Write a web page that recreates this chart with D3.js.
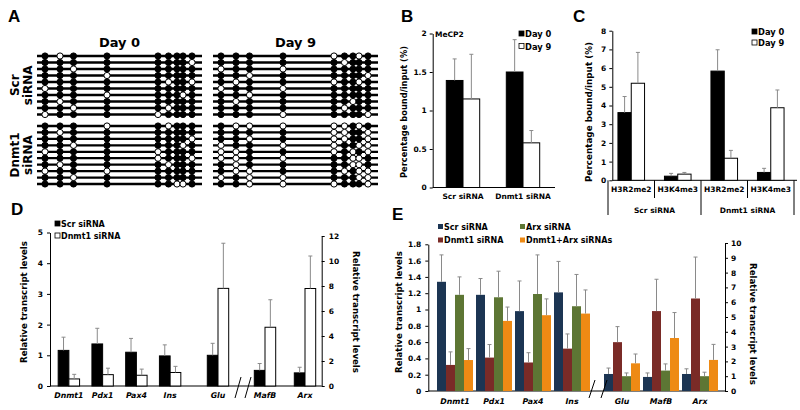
<!DOCTYPE html>
<html><head><meta charset="utf-8">
<script src="https://cdn.jsdelivr.net/npm/d3@7"></script>
<style>body{margin:0;background:#fff}svg{display:block}</style>
</head><body><div id="chart"></div>
<script>
// ---------- DATA ----------
// Panel A: CpG site positions (relative, bp scale) and methylation patterns (1 = methylated, 0 = unmethylated)
const cpgPositions = [8, 23, 36.5, 70, 121, 131.5, 140, 146, 155];
const methScrDay0 = ["101111111","111111110","110111111","111011111","111110110","011111111","111011101","101111111","110110111","011101111"];
const methScrDay9 = ["111101101","111110111","011011111","110111110","101101101","011011111","110111111","101111011","111110111","111011110"];
const methDnDay0  = ["111010111","101111111","111111110","110111101","011101111","111101110","101110111","011011111","110111111","111111001"];
const methDnDay9  = ["100000101","111100110","110100110","011001100","001101010","001011001","101111001","100110100","010011100","110001110"];
const aColumns = ["Day 0","Day 9"];
const aRows = ["Scr siRNA","Dnmt1 siRNA"];

// Panel B
const bCategories = ["Scr siRNA","Dnmt1 siRNA"];
const bSeries = ["Day 0","Day 9"];
const bDay0 = [1.39, 1.50];
const bDay0Err = [0.28, 0.42];
const bDay9 = [1.15, 0.58];
const bDay9Err = [0.58, 0.16];
const bTicks = [0, 0.5, 1, 1.5, 2];

// Panel C
const cCategories = ["H3R2me2","H3K4me3","H3R2me2","H3K4me3"];
const cGroups = ["Scr siRNA","Dnmt1 siRNA"];
const cDay0 = [3.62, 0.22, 5.84, 0.42];
const cDay0Err = [0.86, 0.15, 1.14, 0.22];
const cDay9 = [5.19, 0.33, 1.18, 3.88];
const cDay9Err = [1.65, 0.09, 0.42, 0.95];
const cTicks = [0,1,2,3,4,5,6,7,8];

// Panel D (first five on left axis, MafB & Arx on right axis)
const dCategories = ["Dnmt1","Pdx1","Pax4","Ins","Glu","MafB","Arx"];
const dSeries = ["Scr siRNA","Dnmt1 siRNA"];
const dScr = [1.16, 1.37, 1.10, 0.98, 1.00, 1.25, 1.05];
const dScrErr = [0.43, 0.51, 0.45, 0.36, 0.39, 0.55, 0.45];
const dDnmt1 = [0.23, 0.37, 0.35, 0.44, 3.18, 4.7, 7.8];
const dDnmt1Err = [0.15, 0.21, 0.20, 0.20, 1.47, 2.2, 2.6];
const dLeftTicks = [0,1,2,3,4,5];
const dRightTicks = [0,2,4,6,8,10,12];

// Panel E (first four on left axis, Glu/MafB/Arx on right axis)
const eCategories = ["Dnmt1","Pdx1","Pax4","Ins","Glu","MafB","Arx"];
const eSeries = ["Scr siRNA","Dnmt1 siRNA","Arx siRNA","Dnmt1+Arx siRNAs"];
const eScr    = [1.34, 1.18, 0.98, 1.21, 1.15, 0.95, 1.15];
const eScrErr = [0.33, 0.20, 0.37, 0.38, 0.40, 0.27, 0.35];
const eDnmt1    = [0.32, 0.41, 0.35, 0.52, 3.30, 5.40, 6.25];
const eDnmt1Err = [0.16, 0.16, 0.12, 0.18, 1.05, 2.15, 2.80];
const eArx    = [1.18, 1.15, 1.19, 1.04, 1.00, 1.38, 1.00];
const eArxErr = [0.22, 0.32, 0.48, 0.39, 0.22, 0.45, 0.27];
const eCombo    = [0.38, 0.86, 0.93, 0.95, 1.87, 3.58, 2.10];
const eComboErr = [0.14, 0.17, 0.20, 0.29, 0.63, 1.72, 1.05];
const eLeftTicks = [0,0.2,0.4,0.6,0.8,1,1.2,1.4,1.6,1.8];
const eRightTicks = [0,1,2,3,4,5,6,7,8,9,10];
const eColors = ["#1c3553","#7a2b27","#5d7634","#ee8a14"];

// ---------- DRAWING ----------
const FONT = '"DejaVu Sans", Verdana, sans-serif';
const svg = d3.select("#chart").append("svg").attr("width",800).attr("height",410);
svg.append("rect").attr("width",800).attr("height",410).attr("fill","#fff");

function txt(t,x,y,size,opt={}){
  const e = svg.append("text").attr("x",x).attr("y",y).text(t)
    .attr("font-family",opt.family||FONT).attr("font-weight","bold").attr("font-size",size)
    .attr("text-anchor",opt.anchor||"start").attr("fill","#000");
  if(opt.italic) e.attr("font-style","italic");
  if(opt.rot) e.attr("transform",`rotate(${opt.rot},${x},${y})`);
  return e;
}
function letter(t,x,y){ txt(t,x,y,17,{family:'"Liberation Sans", Arial, sans-serif'}); }
function line(x1,y1,x2,y2,c="#000",w=1){
  svg.append("line").attr("x1",x1).attr("y1",y1).attr("x2",x2).attr("y2",y2).attr("stroke",c).attr("stroke-width",w);
}
function styleAxis(g,size){
  g.selectAll("text").attr("font-family",FONT).attr("font-weight","bold").attr("font-size",size).attr("fill","#000");
  g.selectAll("line,path").attr("stroke","#000");
}
function errBar(x,y0,y1){
  line(x,y0,x,y1,"#8a8a8a",1);
  line(x-2,y1,x+2,y1,"#8a8a8a",1);
}
const plain = d => +d.toFixed(1);

// ----- Panel A -----
letter("A",8,22);
const aX = [d3.scaleLinear().domain([0,165]).range([37,202]), d3.scaleLinear().domain([0,165]).range([213,378])];
const aY = [d3.scalePoint().domain(d3.range(10)).range([56,114.5]), d3.scalePoint().domain(d3.range(10)).range([126,184])];
function drawMeth(rows,xs,ys){
  const g = svg.append("g");
  rows.forEach((r,i)=>{
    g.append("line").attr("x1",xs.range()[0]).attr("x2",xs.range()[1]).attr("y1",ys(i)).attr("y2",ys(i))
      .attr("stroke","#000").attr("stroke-width",2.3);
    g.selectAll(null).data(r.split("")).enter().append("circle")
      .attr("cx",(d,j)=>xs(cpgPositions[j])).attr("cy",ys(i)).attr("r",3.1)
      .attr("fill",d=>d==="1"?"#000":"#fff").attr("stroke","#000").attr("stroke-width",1);
  });
}
drawMeth(methScrDay0,aX[0],aY[0]);
drawMeth(methScrDay9,aX[1],aY[0]);
drawMeth(methDnDay0,aX[0],aY[1]);
drawMeth(methDnDay9,aX[1],aY[1]);
aColumns.forEach((c,i)=>txt(c,(aX[i].range()[0]+aX[i].range()[1])/2,47,13,{anchor:"middle"}));
aRows.forEach((r,i)=>{
  const [w1,w2] = r.split(" ");
  const cy = (aY[i].range()[0]+aY[i].range()[1])/2;
  txt(w1,18.5,cy,12,{anchor:"middle",rot:-90});
  txt(w2,32,cy,12,{anchor:"middle",rot:-90});
});

// ----- Panel B -----
letter("B",401,22);
const bY = d3.scaleLinear().domain([0,2]).range([187.5,33.5]);
const bX = d3.scaleBand().domain(bCategories).range([433,553]);
const bAxisX = 432.7;
const gbY = svg.append("g").attr("transform",`translate(${bAxisX},0)`)
  .call(d3.axisLeft(bY).tickValues(bTicks).tickSize(3).tickSizeOuter(0).tickPadding(3).tickFormat(plain));
styleAxis(gbY,7.5);
line(bAxisX,187.5,555,187.5);
const bBarW = 16.7;
[[bDay0,bDay0Err,"#000"],[bDay9,bDay9Err,"#fff"]].forEach(([vals,errs,fill],s)=>{
  bCategories.forEach((c,i)=>{
    const x = bX(c)+bX.bandwidth()/2 - bBarW + s*bBarW;
    svg.append("rect").attr("x",x).attr("y",bY(vals[i])).attr("width",bBarW).attr("height",bY(0)-bY(vals[i]))
      .attr("fill",fill).attr("stroke","#000").attr("stroke-width",1);
    errBar(x+bBarW/2,bY(vals[i]),bY(vals[i]+errs[i]));
  });
});
bCategories.forEach(c=>txt(c,bX(c)+bX.bandwidth()/2,199,7.5,{anchor:"middle"}));
txt("MeCP2",435,37,7.5);
txt("Percentage bound/input (%)",407,112,8.3,{anchor:"middle",rot:-90});
bSeries.forEach((s,i)=>{
  svg.append("rect").attr("x",519).attr("y",31+i*12.5).attr("width",5).attr("height",5)
    .attr("fill",i?"#fff":"#000").attr("stroke","#000").attr("stroke-width",0.8);
  txt(s,525,37+i*12.5,8.3);
});

// ----- Panel C -----
letter("C",573,22);
const cY = d3.scaleLinear().domain([0,8]).range([180.3,30.7]);
const cX = d3.scaleBand().domain(d3.range(cCategories.length)).range([608,794]);
const cAxisX = 612.3;
const gcY = svg.append("g").attr("transform",`translate(${cAxisX},0)`)
  .call(d3.axisLeft(cY).tickValues(cTicks).tickSize(3).tickSizeOuter(0).tickPadding(3).tickFormat(plain));
styleAxis(gcY,7.5);
line(cAxisX,180.3,797,180.3);
const cBarW = 13.3;
[[cDay0,cDay0Err,"#000"],[cDay9,cDay9Err,"#fff"]].forEach(([vals,errs,fill],s)=>{
  cCategories.forEach((c,i)=>{
    const x = cX(i)+cX.bandwidth()/2 - cBarW + s*cBarW;
    svg.append("rect").attr("x",x).attr("y",cY(vals[i])).attr("width",cBarW).attr("height",cY(0)-cY(vals[i]))
      .attr("fill",fill).attr("stroke","#000").attr("stroke-width",1);
    errBar(x+cBarW/2,cY(vals[i]),cY(vals[i]+errs[i]));
  });
});
cCategories.forEach((c,i)=>{
  txt(c,cX(i)+cX.bandwidth()/2,192,7.5,{anchor:"middle"});
  const xb = cX(i);
  line(xb,180.3,xb,(i%2===0)?215:198);
});
line(cX.range()[1],180.3,cX.range()[1],215);
cGroups.forEach((g,i)=>{
  const xm = cX(i*2)+cX.bandwidth();
  txt(g,xm,213,7.5,{anchor:"middle"});
});
txt("Percentage bound/input (%)",592,112,8.8,{anchor:"middle",rot:-90});
bSeries.forEach((s,i)=>{
  svg.append("rect").attr("x",752).attr("y",29+i*11).attr("width",5).attr("height",5)
    .attr("fill",i?"#fff":"#000").attr("stroke","#000").attr("stroke-width",0.8);
  txt(s,758,35+i*11,8.3);
});

// ----- Panel D -----
letter("D",11,215);
const dYL = d3.scaleLinear().domain([0,5]).range([386,232.5]);
const dYR = d3.scaleLinear().domain([0,12]).range([386,236]);
const dSeg1 = d3.scaleBand().domain(dCategories.slice(0,4)).range([52,187]);
const dSeg2 = d3.scaleBand().domain(dCategories.slice(4,5)).range([201,235]);
const dSeg3 = d3.scaleBand().domain(dCategories.slice(5)).range([245,325]);
const dCenter = c => { const s = dSeg1.domain().includes(c)?dSeg1:(dSeg2.domain().includes(c)?dSeg2:dSeg3); return s(c)+s.bandwidth()/2; };
const dYfor = i => i<5 ? dYL : dYR;
const gdL = svg.append("g").attr("transform","translate(50,0)")
  .call(d3.axisLeft(dYL).tickValues(dLeftTicks).tickSize(3).tickSizeOuter(0).tickPadding(4).tickFormat(plain));
styleAxis(gdL,7.5);
const gdR = svg.append("g").attr("transform","translate(321.7,0)")
  .call(d3.axisRight(dYR).tickValues(dRightTicks).tickSize(3).tickSizeOuter(0).tickPadding(4).tickFormat(plain));
styleAxis(gdR,7.5);
line(50,386,321.7,386);
const dBarW = 10.7;
[[dScr,dScrErr,"#000"],[dDnmt1,dDnmt1Err,"#fff"]].forEach(([vals,errs,fill],s)=>{
  dCategories.forEach((c,i)=>{
    const y = dYfor(i);
    const x = dCenter(c) - dBarW + s*dBarW;
    svg.append("rect").attr("x",x).attr("y",y(vals[i])).attr("width",dBarW).attr("height",y(0)-y(vals[i]))
      .attr("fill",fill).attr("stroke","#000").attr("stroke-width",1);
    errBar(x+dBarW/2,y(vals[i]),y(vals[i]+errs[i]));
  });
});
dCategories.forEach(c=>txt(c,dCenter(c),398,7.8,{anchor:"middle",italic:true}));
// axis break marks
[238,248].forEach(x=>line(x-3,398,x+3,377,"#000",1));
txt("Relative transcript levels",27,302,8.6,{anchor:"middle",rot:-90});
txt("Relative transcript levels",353,312,8.6,{anchor:"middle",rot:90});
dSeries.forEach((s,i)=>{
  svg.append("rect").attr("x",55).attr("y",221+i*12).attr("width",5).attr("height",5)
    .attr("fill",i?"#fff":"#000").attr("stroke","#000").attr("stroke-width",0.8);
  txt(s,61,227+i*12,8);
});

// ----- Panel E -----
letter("E",392,220);
const eYL = d3.scaleLinear().domain([0,1.8]).range([391,244.3]);
const eYR = d3.scaleLinear().domain([0,10]).range([391,243]);
const eSeg1 = d3.scaleBand().domain(eCategories.slice(0,4)).range([435.5,591.5]);
const eSeg2 = d3.scaleBand().domain(eCategories.slice(4)).range([602.5,719.5]);
const eCenter = c => { const s = eSeg1.domain().includes(c)?eSeg1:eSeg2; return s(c)+s.bandwidth()/2; };
const eYfor = i => i<4 ? eYL : eYR;
const geL = svg.append("g").attr("transform","translate(428.3,0)")
  .call(d3.axisLeft(eYL).tickValues(eLeftTicks).tickSize(3).tickSizeOuter(0).tickPadding(4).tickFormat(plain));
styleAxis(geL,7.5);
const geR = svg.append("g").attr("transform","translate(725,0)")
  .call(d3.axisRight(eYR).tickValues(eRightTicks).tickSize(3).tickSizeOuter(0).tickPadding(3).tickFormat(plain));
styleAxis(geR,7.5);
line(428.3,391,725,391);
const eBarW = 9;
[[eScr,eScrErr],[eDnmt1,eDnmt1Err],[eArx,eArxErr],[eCombo,eComboErr]].forEach(([vals,errs],s)=>{
  eCategories.forEach((c,i)=>{
    const y = eYfor(i);
    const x = eCenter(c) - 2*eBarW + s*eBarW;
    svg.append("rect").attr("x",x).attr("y",y(vals[i])).attr("width",eBarW).attr("height",y(0)-y(vals[i]))
      .attr("fill",eColors[s]);
    errBar(x+eBarW/2,y(vals[i]),y(vals[i]+errs[i]));
  });
});
eCategories.forEach(c=>txt(c,eCenter(c),404,7.8,{anchor:"middle",italic:true}));
[592,604].forEach(x=>line(x-3,398,x+3,380,"#000",1));
txt("Relative transcript levels",402,312,8.6,{anchor:"middle",rot:-90});
txt("Relative transcript levels",750,324,8.6,{anchor:"middle",rot:90});
const eLegendPos = [[438,229.5],[438,243],[520,229.5],[520,243]];
eSeries.forEach((s,i)=>{
  const [x,y] = eLegendPos[i];
  svg.append("rect").attr("x",x).attr("y",y-5.5).attr("width",5).attr("height",5).attr("fill",eColors[i]);
  txt(s,x+6,y,8);
});
</script></body></html>
